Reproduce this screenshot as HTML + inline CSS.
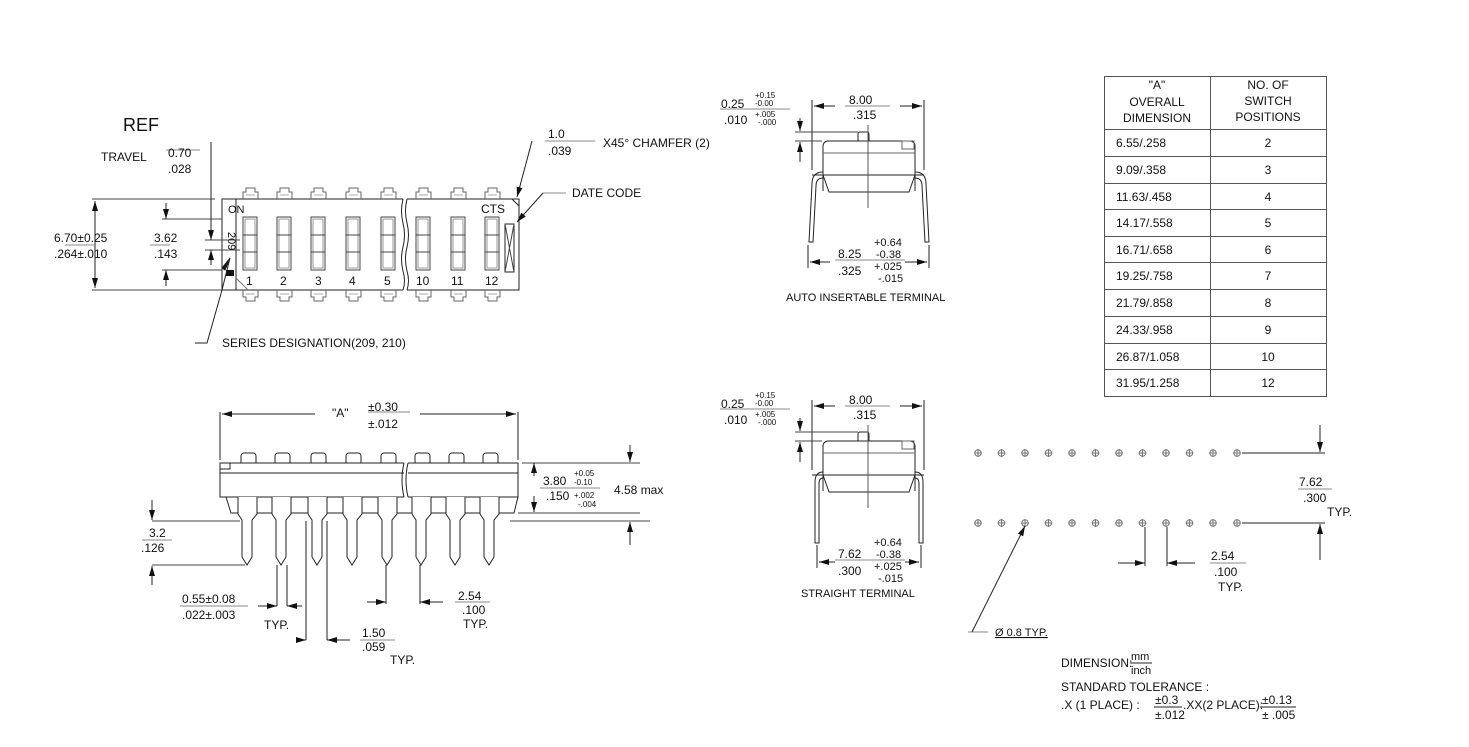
<!DOCTYPE html>
<html><head><meta charset="utf-8"><style>
body{margin:0;background:#fff}
svg{display:block}
text{font-family:"Liberation Sans",Arial,sans-serif;fill:#111}
</style></head><body>
<svg width="1469" height="747" viewBox="0 0 1469 747" xmlns="http://www.w3.org/2000/svg">
<defs>
<marker id="a" markerWidth="10" markerHeight="6" refX="10" refY="3" orient="auto" markerUnits="userSpaceOnUse"><path d="M0,0 L10,3 L0,6z" fill="#111"/></marker>
</defs>
<g stroke="#222" stroke-width="1" fill="none">
<!-- ===== TOP VIEW ===== -->
<path d="M403,199 H222 V290 H403"/>
<path d="M407,199 H519 V290 H407"/>
<path d="M403,199 q-3,12 0,24 q3,12 0,24 q-3,12 0,24 q3,10 0,19" />
<path d="M407,199 q-3,12 0,24 q3,12 0,24 q-3,12 0,24 q3,10 0,19" />
<path d="M236,199 V290"/>
<path d="M236,278 L248,290" stroke="#777"/>
<path d="M512,199 L519,206" />
</g>
<g stroke="#666" stroke-width="1" fill="none">
<g id="sw">
<path d="M243,199 v-7 h3 v-4 h9 v4 h3 v7"/>
<path d="M246,195 h9" stroke="#aaa"/>
<path d="M243,290 v7 h3 v4 h9 v-4 h3 v-7"/>
<path d="M246,294 h9" stroke="#aaa"/>
<rect x="243" y="217" width="14" height="53" stroke="#444"/>
<rect x="245" y="219" width="10" height="49" stroke="#999"/>
<rect x="243" y="235" width="14" height="17" stroke="#444"/>
</g>
<use href="#sw" x="34"/><use href="#sw" x="68"/><use href="#sw" x="103"/><use href="#sw" x="138"/>
<use href="#sw" x="173"/><use href="#sw" x="208"/><use href="#sw" x="242"/>
<rect x="505" y="224" width="9" height="48" stroke="#222"/>
<path d="M505,224 L514,272 M514,224 L505,272" stroke="#444"/>
</g>
<rect x="226" y="270" width="8" height="6" fill="#111"/>
<g font-size="11">
<text x="228" y="213">ON</text><text x="481" y="213" font-size="12">CTS</text>
<text x="246" y="285" font-size="12">1</text><text x="280" y="285" font-size="12">2</text><text x="315" y="285" font-size="12">3</text><text x="349" y="285" font-size="12">4</text><text x="384" y="285" font-size="12">5</text><text x="416" y="285" font-size="12">10</text><text x="451" y="285" font-size="12">11</text><text x="485" y="285" font-size="12">12</text>
<text transform="translate(228,232) rotate(90)" font-size="11">209</text>
</g>
<g stroke="#222" stroke-width="1" fill="none">
<path d="M92,199 H215 M92,290 H222" stroke="#444"/>
<path d="M95,245 V201" marker-end="url(#a)"/><path d="M95,245 V288" marker-end="url(#a)"/>
<path d="M162,219 H222 M162,270 H222" stroke="#444"/>
<path d="M166,203 V219" marker-end="url(#a)"/><path d="M166,286 V270" marker-end="url(#a)"/>
<path d="M205,240 H240 M205,250 H240" stroke="#444"/>
<path d="M211,142 V240" marker-end="url(#a)"/><path d="M211,265 V250" marker-end="url(#a)"/>
<path d="M65,245 H95" stroke="#888"/><path d="M150,245 H170" stroke="#888"/>
<path d="M166,150 H200" stroke="#888"/>
<path d="M195,343 H207 L222,290 L230,258" /><path d="M230,258 L225,270 L222,268z" fill="#111"/>
<path d="M545,141 H595" stroke="#888"/>
<path d="M532,141 L517,197" marker-end="url(#a)"/>
<path d="M543,193 H566" stroke="#888"/><path d="M543,193 L517,222" marker-end="url(#a)"/>
</g>
<g font-size="12">
<text x="123" y="131" font-size="18">REF</text>
<text x="101" y="161">TRAVEL</text><text x="168" y="157">0.70</text><text x="168" y="173">.028</text>
<text x="54" y="242">6.70±0.25</text><text x="54" y="258">.264±.010</text>
<text x="154" y="242">3.62</text><text x="154" y="258">.143</text>
<text x="548" y="138">1.0</text><text x="548" y="155">.039</text><text x="603" y="147">X45° CHAMFER (2)</text>
<text x="572" y="197">DATE CODE</text>
<text x="222" y="347">SERIES DESIGNATION(209, 210)</text>
</g>

<!-- ===== SIDE VIEW ===== -->
<g stroke="#222" stroke-width="1" fill="none">
<path d="M404,463 H220 V497 H404 M408,463 H518 V497 H408"/>
<path d="M220,473 H404 M408,473 H518"/>
<rect x="220" y="463" width="10" height="6"/>
<path d="M404,463 q-4,17 0,34 M408,463 q-4,17 0,34"/>
<path d="M226,497 L231,513 H514 L518,497"/>
<g id="pn">
<path d="M241,456 a3,3 0 0 1 3,-3 h9 a3,3 0 0 1 3,3 v7"/><path d="M241,456 v7"/>
<path d="M238,497 V514 L242,520 V557 L247,565 L252,557 V520 L257,514 V497" fill="#fff"/>
</g>
<use href="#pn" x="34"/><use href="#pn" x="70"/><use href="#pn" x="105"/><use href="#pn" x="140"/>
<use href="#pn" x="174"/><use href="#pn" x="208"/><use href="#pn" x="242"/>
<path d="M220,412 V460 M518,412 V460"/>
<path d="M315,414 H222" marker-end="url(#a)"/><path d="M420,414 H516" marker-end="url(#a)"/>
<path d="M368,412 H410" stroke="#888"/>
<path d="M522,463 H640 M518,513 H640 M510,521 H650" stroke="#444"/>
<path d="M630,445 V462" marker-end="url(#a)"/><path d="M630,545 V522" marker-end="url(#a)"/>
<path d="M534,476 V463" marker-end="url(#a)"/><path d="M534,496 V512" marker-end="url(#a)"/>
<path d="M540,488 H600" stroke="#888"/>
<path d="M152,521 H240 M152,565 H245" stroke="#444"/>
<path d="M152,500 V520" marker-end="url(#a)"/><path d="M152,585 V566" marker-end="url(#a)"/>
<path d="M142,540 H172" stroke="#888"/>
<path d="M277,565 V606 M287,565 V606"/>
<path d="M258,606 H277" marker-end="url(#a)"/><path d="M302,606 H287" marker-end="url(#a)"/>
<path d="M180,606 H248" stroke="#888"/>
<path d="M306,521 V640 M327,521 V640"/>
<path d="M296,640 H306" marker-end="url(#a)"/><path d="M350,640 H327" marker-end="url(#a)"/>
<path d="M360,640 H395" stroke="#888"/>
<path d="M386,565 V604 M420,565 V604"/>
<path d="M367,602 H386" marker-end="url(#a)"/><path d="M443,602 H420" marker-end="url(#a)"/>
<path d="M455,602 H490" stroke="#888"/>
</g>
<g font-size="12">
<text x="332" y="417">"A"</text><text x="368" y="411">±0.30</text><text x="368" y="428">±.012</text>
<text x="543" y="485">3.80</text><text x="574" y="476" font-size="8">+0.05</text><text x="574" y="485" font-size="8">-0.10</text>
<text x="546" y="500">.150</text><text x="574" y="498" font-size="8">+.002</text><text x="578" y="507" font-size="8">-.004</text>
<text x="614" y="494">4.58 max</text>
<text x="149" y="537">3.2</text><text x="141" y="552">.126</text>
<text x="182" y="603">0.55±0.08</text><text x="182" y="619">.022±.003</text><text x="264" y="629">TYP.</text>
<text x="362" y="637">1.50</text><text x="362" y="651">.059</text><text x="390" y="664">TYP.</text>
<text x="458" y="600">2.54</text><text x="462" y="614">.100</text><text x="463" y="628">TYP.</text>
</g>

<!-- ===== AUTO INSERTABLE ===== -->
<g stroke="#222" stroke-width="1" fill="none">
<path d="M823,191 V146 a5,5 0 0 1 5,-5 H910 a5,5 0 0 1 5,5 V191"/>
<path d="M823,153 H915" stroke="#666"/>
<rect x="902" y="141" width="12" height="8" stroke="#666"/>
<path d="M858,141 V134 a2,2 0 0 1 2,-2 h7 a2,2 0 0 1 2,2 V141"/>
<path d="M812,175 H924 M823,175 L829,192 H909 L915,175" />
<path d="M823,172 Q812,172 812,184 L809,242 H813 L816,186 Q816,178 823,178"/>
<path d="M915,172 Q926,172 926,184 L929,242 H925 L922,186 Q922,178 915,178"/>
<path d="M868,125 V208" stroke="#555"/>
<path d="M812,100 V170 M924,100 V170"/>
<path d="M835,106 H814" marker-end="url(#a)"/><path d="M900,106 H922" marker-end="url(#a)"/>
<path d="M845,106 H890" stroke="#888"/>
<path d="M795,132 H858 M795,141 H822" stroke="#444"/>
<path d="M800,118 V131" marker-end="url(#a)"/><path d="M800,162 V142" marker-end="url(#a)"/>
<path d="M720,109 H790" stroke="#888"/>
<path d="M808,245 V268 M929,245 V268"/>
<path d="M830,262 H810" marker-end="url(#a)"/><path d="M905,262 H927" marker-end="url(#a)"/>
<path d="M835,260 H905" stroke="#888"/>
</g>
<g font-size="12">
<text x="721" y="108">0.25</text><text x="755" y="98" font-size="8">+0.15</text><text x="755" y="106" font-size="8">-0.00</text>
<text x="724" y="124">.010</text><text x="755" y="117" font-size="8">+.005</text><text x="758" y="125" font-size="8">-.000</text>
<text x="849" y="104">8.00</text><text x="853" y="119">.315</text>
<text x="874" y="246" font-size="11">+0.64</text><text x="838" y="258">8.25</text><text x="876" y="258" font-size="11">-0.38</text>
<text x="838" y="275">.325</text><text x="874" y="270" font-size="11">+.025</text><text x="878" y="282" font-size="11">-.015</text>
<text x="786" y="301" font-size="11">AUTO INSERTABLE TERMINAL</text>
</g>

<!-- ===== STRAIGHT ===== -->
<g stroke="#222" stroke-width="1" fill="none" transform="translate(0,300)">
<path d="M823,191 V146 a5,5 0 0 1 5,-5 H910 a5,5 0 0 1 5,5 V191"/>
<path d="M823,153 H915" stroke="#666"/>
<rect x="902" y="141" width="12" height="8" stroke="#666"/>
<path d="M858,141 V134 a2,2 0 0 1 2,-2 h7 a2,2 0 0 1 2,2 V141"/>
<path d="M812,175 H924 M823,175 L829,192 H909 L915,175" />
<path d="M823,172 Q815,172 815,182 L815,243 H819 L819,184 Q819,178 823,178"/>
<path d="M915,172 Q923,172 923,182 L923,243 H919 L919,184 Q919,178 915,178"/>
<path d="M868,125 V208" stroke="#555"/>
<path d="M812,100 V170 M924,100 V170"/>
<path d="M835,106 H814" marker-end="url(#a)"/><path d="M900,106 H922" marker-end="url(#a)"/>
<path d="M845,106 H890" stroke="#888"/>
<path d="M795,132 H858 M795,141 H822" stroke="#444"/>
<path d="M800,118 V131" marker-end="url(#a)"/><path d="M800,162 V142" marker-end="url(#a)"/>
<path d="M720,109 H790" stroke="#888"/>
<path d="M817,245 V268 M921,245 V268"/>
<path d="M835,262 H819" marker-end="url(#a)"/><path d="M905,262 H919" marker-end="url(#a)"/>
<path d="M835,260 H905" stroke="#888"/>
</g>
<g font-size="12">
<text x="721" y="408">0.25</text><text x="755" y="398" font-size="8">+0.15</text><text x="755" y="406" font-size="8">-0.00</text>
<text x="724" y="424">.010</text><text x="755" y="417" font-size="8">+.005</text><text x="758" y="425" font-size="8">-.000</text>
<text x="849" y="404">8.00</text><text x="853" y="419">.315</text>
<text x="874" y="546" font-size="11">+0.64</text><text x="838" y="558">7.62</text><text x="876" y="558" font-size="11">-0.38</text>
<text x="838" y="575">.300</text><text x="874" y="570" font-size="11">+.025</text><text x="878" y="582" font-size="11">-.015</text>
<text x="801" y="597" font-size="11">STRAIGHT TERMINAL</text>
</g>

<!-- ===== HOLE PATTERN ===== -->
<g stroke="#777" stroke-width="1" fill="none">
<g id="hl"><circle cx="978" cy="453" r="3.2"/><path d="M978,449 V457 M974,453 H982"/></g>
<use href="#hl" x="23.5"/><use href="#hl" x="47"/><use href="#hl" x="70.5"/><use href="#hl" x="94"/><use href="#hl" x="117.5"/><use href="#hl" x="141"/><use href="#hl" x="164.5"/><use href="#hl" x="188"/><use href="#hl" x="211.5"/><use href="#hl" x="235"/><use href="#hl" x="259"/>
<g transform="translate(0,70)"><use href="#hl"/><use href="#hl" x="23.5"/><use href="#hl" x="47"/><use href="#hl" x="70.5"/><use href="#hl" x="94"/><use href="#hl" x="117.5"/><use href="#hl" x="141"/><use href="#hl" x="164.5"/><use href="#hl" x="188"/><use href="#hl" x="211.5"/><use href="#hl" x="235"/><use href="#hl" x="259"/></g>
</g>
<g stroke="#222" stroke-width="1" fill="none">
<path d="M1242,453 H1325 M1242,523 H1325"/>
<path d="M1320,425 V452" marker-end="url(#a)"/><path d="M1320,560 V524" marker-end="url(#a)"/>
<path d="M1298,489 H1332" stroke="#888"/>
<path d="M1145,527 V566 M1167,527 V566"/>
<path d="M1118,563 H1145" marker-end="url(#a)"/><path d="M1195,563 H1167" marker-end="url(#a)"/>
<path d="M1210,563 H1246" stroke="#888"/>
<path d="M968,632 H988" stroke="#888"/><path d="M972,632 L1025,526" marker-end="url(#a)"/>
</g>
<g font-size="12">
<text x="1299" y="486">7.62</text><text x="1303" y="502">.300</text><text x="1327" y="516">TYP.</text>
<text x="1211" y="560">2.54</text><text x="1214" y="576">.100</text><text x="1218" y="591">TYP.</text>
<text x="995" y="636" font-size="11" text-decoration="underline">Ø 0.8 TYP.</text>
<text x="1061" y="667">DIMENSION:</text><text x="1131" y="660" font-size="11">mm</text><path d="M1130,663 H1152" stroke="#222"/><text x="1131" y="674" font-size="11">inch</text>
<text x="1061" y="691">STANDARD TOLERANCE :</text>
<text x="1061" y="709">.X (1 PLACE) :</text><text x="1155" y="704">±0.3</text><path d="M1154,707 H1182" stroke="#222"/><text x="1155" y="719">±.012</text>
<text x="1183" y="709">.XX(2 PLACE):</text><text x="1262" y="704">±0.13</text><path d="M1260,707 H1296" stroke="#222"/><text x="1262" y="719">± .005</text>
</g>

<!-- ===== TABLE ===== -->
<g stroke="#555" stroke-width="1" fill="none">
<rect x="1104.5" y="76.5" width="222" height="320"/>
<path d="M1210.5,76 V397"/>
<path d="M1104,129.5 H1327 M1104,156.5 H1327 M1104,183.5 H1327 M1104,209.5 H1327 M1104,236.5 H1327 M1104,262.5 H1327 M1104,289.5 H1327 M1104,316.5 H1327 M1104,343.5 H1327 M1104,369.5 H1327"/>
</g>
<g font-size="12">
<g text-anchor="middle">
<text x="1157" y="89">"A"</text><text x="1157" y="106">OVERALL</text><text x="1157" y="122">DIMENSION</text>
<text x="1268" y="89">NO. OF</text><text x="1268" y="105">SWITCH</text><text x="1268" y="121">POSITIONS</text>
<text x="1268" y="147">2</text><text x="1268" y="174">3</text><text x="1268" y="201">4</text><text x="1268" y="227">5</text><text x="1268" y="254">6</text><text x="1268" y="280">7</text><text x="1268" y="307">8</text><text x="1268" y="334">9</text><text x="1268" y="361">10</text><text x="1268" y="387">12</text>
</g>
<text x="1116" y="147">6.55/.258</text><text x="1116" y="174">9.09/.358</text><text x="1116" y="201">11.63/.458</text><text x="1116" y="227">14.17/.558</text><text x="1116" y="254">16.71/.658</text><text x="1116" y="280">19.25/.758</text><text x="1116" y="307">21.79/.858</text><text x="1116" y="334">24.33/.958</text><text x="1116" y="361">26.87/1.058</text><text x="1116" y="387">31.95/1.258</text>
</g>
</svg>
</body></html>
